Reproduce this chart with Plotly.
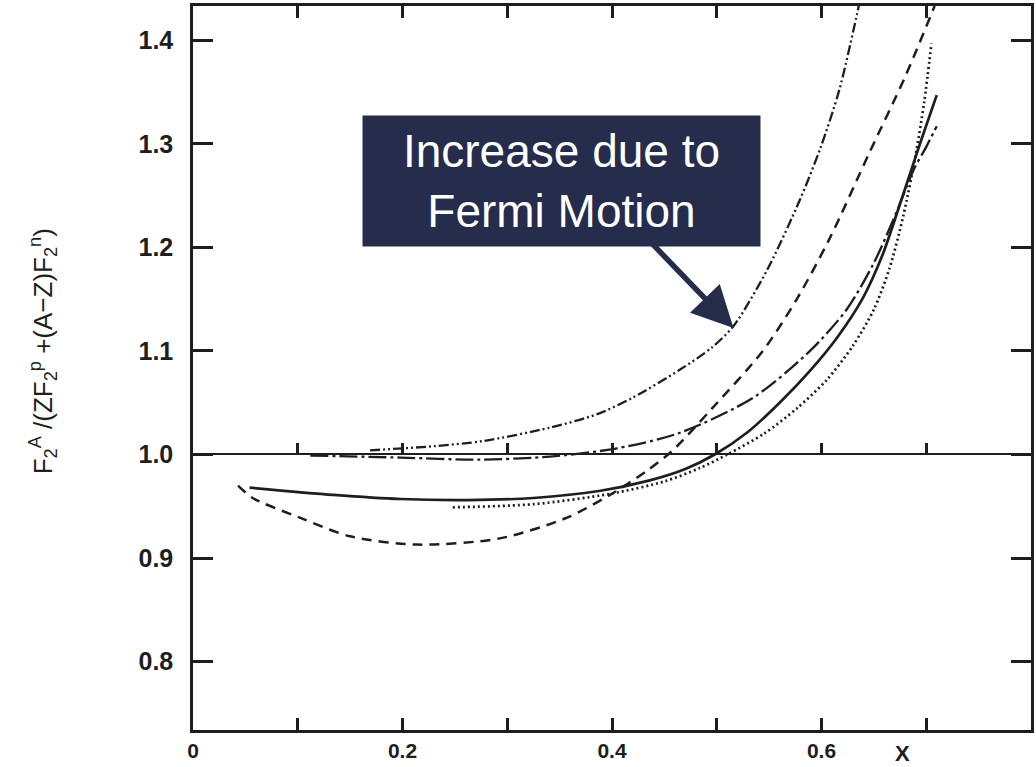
import plotly.graph_objects as go

# ---- data (x = Bjorken x, y = F2 ratio) ----
solid_x = [0.054, 0.134, 0.198, 0.262, 0.325, 0.389, 0.436, 0.470, 0.498, 0.530, 0.560, 0.590, 0.615, 0.640, 0.658, 0.676, 0.694, 0.710]
solid_y = [0.968, 0.961, 0.957, 0.956, 0.958, 0.965, 0.975, 0.986, 1.000, 1.022, 1.050, 1.082, 1.113, 1.152, 1.192, 1.245, 1.300, 1.347]

dotted_x = [0.248, 0.325, 0.398, 0.450, 0.484, 0.510, 0.545, 0.577, 0.605, 0.630, 0.650, 0.665, 0.678, 0.690, 0.698, 0.705]
dotted_y = [0.949, 0.952, 0.962, 0.974, 0.987, 1.000, 1.020, 1.045, 1.072, 1.105, 1.140, 1.180, 1.230, 1.290, 1.340, 1.397]

dashed_x = [0.043, 0.057, 0.102, 0.150, 0.214, 0.293, 0.357, 0.398, 0.433, 0.458, 0.496, 0.544, 0.577, 0.608, 0.646, 0.680, 0.708]
dashed_y = [0.970, 0.958, 0.939, 0.921, 0.913, 0.919, 0.939, 0.961, 0.984, 1.004, 1.045, 1.100, 1.151, 1.209, 1.292, 1.365, 1.433]

dashdot_x = [0.112, 0.198, 0.274, 0.341, 0.405, 0.465, 0.535, 0.589, 0.624, 0.650, 0.672, 0.688, 0.700, 0.710]
dashdot_y = [0.999, 0.997, 0.995, 0.998, 1.006, 1.021, 1.055, 1.100, 1.140, 1.185, 1.235, 1.275, 1.297, 1.317]

dd_x = [0.169, 0.230, 0.277, 0.341, 0.386, 0.420, 0.465, 0.495, 0.516, 0.548, 0.579, 0.599, 0.617, 0.636]
dd_y = [1.004, 1.008, 1.013, 1.026, 1.039, 1.055, 1.082, 1.103, 1.124, 1.178, 1.245, 1.296, 1.352, 1.435]

x_ticks = [0, 0.1, 0.2, 0.3, 0.4, 0.5, 0.6, 0.7]
x_ticktext = ["0", "", "0.2", "", "0.4", "", "0.6", ""]
y_ticks = [0.8, 0.9, 1.0, 1.1, 1.2, 1.3, 1.4]
y_ticktext = ["0.8", "0.9", "1.0", "1.1", "1.2", "1.3", "1.4"]
ref_x = [0, 0.8]
ref_y = [1.0, 1.0]

X_RANGE = [0, 0.8]
Y_RANGE = [0.734, 1.433]

INK = "#1e1e1e"
NAVY = "#252c4c"
SANS = "Arial, Liberation Sans, sans-serif"

fig = go.Figure()

def curve(x, y, dash, width=2.4):
    fig.add_trace(go.Scatter(
        x=x, y=y, mode="lines",
        line=dict(color=INK, width=width, dash=dash, shape="spline", smoothing=0.8),
        showlegend=False, hoverinfo="skip"))

curve(solid_x, solid_y, "solid", 2.7)
curve(dotted_x, dotted_y, "2px,3px", 2.7)
curve(dashed_x, dashed_y, "10px,7px", 2.5)
curve(dashdot_x, dashdot_y, "18px,4px,3px,4px", 2.3)
curve(dd_x, dd_y, "10px,3px,2px,3px,2px,3px", 2.3)

# reference line at 1.0 (drawn by an overlaying axis with its own ticks)
fig.add_trace(go.Scatter(x=ref_x, y=ref_y, xaxis="x2", mode="lines",
                         line=dict(color="rgba(0,0,0,0)", width=0),
                         showlegend=False, hoverinfo="skip"))

y_pos = (1.0 - Y_RANGE[0]) / (Y_RANGE[1] - Y_RANGE[0])

fig.update_layout(
    width=1036, height=767,
    margin=dict(l=193, r=5, t=6, b=37, autoexpand=False),
    paper_bgcolor="white", plot_bgcolor="white",
    xaxis=dict(
        range=X_RANGE, tickvals=x_ticks, ticktext=x_ticktext, automargin=False,
        ticks="inside", ticklen=12, tickwidth=2.5, tickcolor=INK,
        showline=True, linewidth=2.5, linecolor=INK, mirror="ticks",
        showgrid=False, zeroline=False, ticklabelstandoff=0,
        tickfont=dict(family=SANS, size=21, color=INK, weight="bold"),
    ),
    xaxis2=dict(
        range=X_RANGE, overlaying="x", anchor="free", position=y_pos, side="bottom",
        tickvals=x_ticks[1:], ticks="inside", ticklen=10, tickwidth=2.5, tickcolor=INK,
        showline=True, linewidth=2.2, linecolor=INK, automargin=False,
        showticklabels=False, showgrid=False, zeroline=False,
    ),
    yaxis=dict(
        range=Y_RANGE, tickvals=y_ticks, ticktext=y_ticktext, automargin=False,
        ticks="inside", ticklen=20, tickwidth=2.5, tickcolor=INK,
        showline=True, linewidth=2.5, linecolor=INK, mirror="ticks",
        showgrid=False, zeroline=False, ticklabelstandoff=12,
        tickfont=dict(family=SANS, size=25, color=INK, weight="bold"),
    ),
)

# y-axis title
fig.add_annotation(
    xref="paper", yref="paper", x=-0.179, y=0.523, textangle=-90,
    text="F<sub>2</sub><sup>A</sup> /(ZF<sub>2</sub><sup>p</sup> +(A\u2212Z)F<sub>2</sub><sup>n</sup>)",
    showarrow=False, font=dict(family=SANS, size=26, color=INK),
    xanchor="center", yanchor="middle")

# x-axis "X" label
fig.add_annotation(
    xref="x", yref="paper", x=0.677, y=-0.032, text="X", showarrow=False,
    font=dict(family=SANS, size=22, color=INK, weight="bold"),
    xanchor="center", yanchor="middle")

# callout box
fig.add_annotation(
    xref="x", yref="y", x=0.3515, y=1.264,
    text="Increase due to<br>Fermi Motion", showarrow=False,
    font=dict(family=SANS, size=46, color="white"),
    bgcolor=NAVY, borderpad=0, width=397, height=130,
    xanchor="center", yanchor="middle", align="center")

# arrow
fig.add_annotation(
    xref="x", yref="y", x=0.516, y=1.122,
    axref="x", ayref="y", ax=0.436, ay=1.206,
    text="", showarrow=True, arrowhead=2, arrowsize=1.5, arrowwidth=5.5,
    arrowcolor=NAVY)

fig.write_html("out.html")
